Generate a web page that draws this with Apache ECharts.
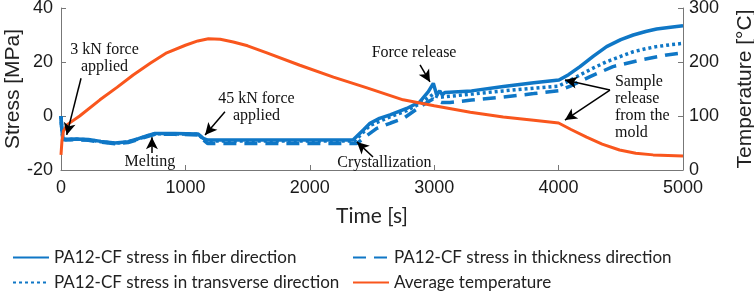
<!DOCTYPE html>
<html><head><meta charset="utf-8">
<script src="https://cdn.jsdelivr.net/npm/echarts@6/dist/echarts.min.js"></script>
<style>html,body{margin:0;padding:0;background:#fff}#c{width:754px;height:294px}</style>
</head><body><div id="c"></div>
<script>
// ---- data ----
const xTicks = [0, 1000, 2000, 3000, 4000, 5000];
const stressTicks = [-20, 0, 20, 40];
const tempTicks = [0, 100, 200, 300];

const fiberTime   = [0, 5, 15, 40, 120, 220, 320, 434, 540, 622, 700, 755, 916, 1103, 1143, 1180, 1400, 1800, 2200, 2347, 2430, 2484, 2560, 2645, 2779, 2886, 2953, 2993, 3020, 3045, 3065, 3085, 3100, 3300, 3556, 3800, 4003, 4080, 4172, 4280, 4386, 4500, 4600, 4700, 4788, 4900, 5000];
const fiberStress = [0, -4, -8.5, -8.6, -8.5, -8.7, -9.4, -10.0, -9.5, -8.4, -7.2, -6.5, -6.5, -6.7, -8.3, -8.9, -8.9, -8.9, -8.9, -8.9, -5.2, -2.7, -0.9, 0.4, 2.8, 5.3, 9.0, 12.1, 7.8, 9.3, 7.8, 8.7, 8.0, 9.3, 10.9, 12.3, 13.3, 15.3, 18.3, 22.2, 25.7, 28.3, 30.0, 31.3, 32.2, 32.9, 33.4];

const thickTime   = [0, 5, 15, 40, 120, 220, 320, 434, 540, 622, 700, 755, 916, 1103, 1143, 1180, 1400, 1800, 2200, 2377, 2460, 2538, 2650, 2752, 2886, 2990, 3060, 3127, 3300, 3556, 3800, 4000, 4100, 4253, 4437, 4654, 4869, 5000];
const thickStress = [0, -4, -8.7, -8.9, -8.8, -9.0, -9.7, -10.3, -9.8, -8.7, -7.5, -6.8, -6.8, -7.0, -8.8, -10.2, -10.2, -10.2, -10.2, -10.2, -7.2, -4.6, -2.6, -0.9, 3.4, 6.3, 5.0, 5.0, 5.9, 7.0, 8.3, 9.4, 11.2, 14.6, 18.3, 20.7, 22.6, 23.4];

const transTime   = [0, 5, 15, 40, 120, 220, 320, 434, 540, 622, 700, 755, 916, 1103, 1143, 1180, 1400, 1800, 2200, 2360, 2430, 2484, 2645, 2779, 2886, 2990, 3040, 3100, 3300, 3556, 3800, 4000, 4080, 4172, 4280, 4386, 4500, 4600, 4700, 4788, 4900, 5000];
const transStress = [0, -4, -8.6, -8.7, -8.6, -8.8, -9.5, -10.1, -9.6, -8.5, -7.3, -6.6, -6.6, -6.8, -8.5, -9.3, -9.3, -9.3, -9.3, -9.3, -6.0, -3.5, -0.3, 2.0, 4.6, 8.0, 6.9, 7.2, 8.1, 9.3, 10.3, 11.1, 12.9, 15.2, 17.8, 20.1, 22.1, 23.8, 24.9, 25.7, 26.4, 26.9];

const tempTime  = [0, 8, 20, 50, 150, 313, 450, 580, 720, 850, 1000, 1100, 1185, 1280, 1385, 1500, 1655, 1920, 2190, 2460, 2750, 3000, 3290, 3555, 3800, 4000, 4100, 4225, 4350, 4490, 4620, 4760, 4880, 5000];
const tempValue = [28, 55, 72, 84, 100, 130, 153, 176, 198, 217, 231, 239, 243, 242, 237, 230, 217, 194, 172, 152, 130, 119, 107, 98, 92, 87, 75, 61, 48, 37, 31, 28, 27, 26];

// annotations
const noteTexts = ['3 kN force\napplied', '45 kN force\napplied', 'Melting', 'Crystallization', 'Force release'];
const noteTime  = [350, 1571, 715, 2600, 2838];
const noteStress = [21.3, 3.1, -17.0, -17.4, 23.3];
const sampleText = 'Sample\nrelease\nfrom the\nmold';
const sampleAt = [4453, 3.1];
// arrows
const arrowFromT = [161, 1318, 731, 2508, 2886, 4413, 4413];
const arrowFromS = [14.0, 1.6, -13.7, -15.2, 18.9, 9.6, 9.6];
const arrowToT   = [46, 1158, 731, 2379, 2966, 4051, 4051];
const arrowToS   = [-7.0, -7.0, -7.9, -9.6, 12.6, 13.3, -1.5];

const names = ['PA12-CF stress in fiber direction', 'PA12-CF stress in thickness direction', 'PA12-CF stress in transverse direction', 'Average temperature'];
const BLUE = '#0f77c6', ORANGE = '#f9561d';

function pairs(xs, ys) { return xs.map((x, i) => [x, ys[i]]); }

const chart = echarts.init(document.getElementById('c'), null, {renderer: 'canvas'});
const SANS = "'Liberation Sans', Arial, sans-serif";
const axisFont = {fontFamily: SANS, fontSize: 18, color: '#1a1a1a', formatter: v => String(v)};
const axLine = {show: true, onZero: false, lineStyle: {color: '#777', width: 1}};
const axTick = {show: true, inside: true, length: 5, lineStyle: {color: '#777'}};
const serif = "'Liberation Serif', 'Times New Roman', serif";

const notePoints = noteTexts.map((t, i) => ({
  coord: [noteTime[i], noteStress[i]], symbol: 'circle', symbolSize: 1,
  itemStyle: {color: 'rgba(0,0,0,0)'},
  label: {show: true, position: 'inside', formatter: t, color: '#111', fontFamily: serif, fontSize: 16, lineHeight: 17, align: 'center'}
}));
notePoints.push({
  coord: sampleAt, symbol: 'circle', symbolSize: 1, itemStyle: {color: 'rgba(0,0,0,0)'},
  label: {show: true, position: 'inside', formatter: sampleText, color: '#111', fontFamily: serif, fontSize: 16, lineHeight: 17, align: 'left'}
});
const arrowLines = arrowFromT.map((t, i) => [
  {coord: [t, arrowFromS[i]]}, {coord: [arrowToT[i], arrowToS[i]]}
]);

const legendPos = [[12, 249], [352, 249], [12, 274], [352, 274]];
const legendOrder = [names[0], names[1], names[2], names[3]];
const legends = legendOrder.map((n, i) => ({
  data: [n], left: legendPos[i][0], top: legendPos[i][1], padding: 0,
  itemWidth: 36, itemHeight: 14, itemGap: 6,
  itemStyle: {opacity: 0},
  textStyle: {fontFamily: 'Lato', fontSize: 17, color: '#222'}
}));

chart.setOption({
  animation: false,
  grid: {left: 61, right: 71, top: 8, bottom: 124, containLabel: false, outerBoundsMode: 'none'},
  legend: legends,
  xAxis: {type: 'value', min: xTicks[0], max: xTicks[xTicks.length - 1], interval: 1000,
    name: 'Time [s]', nameLocation: 'middle', nameGap: 36, nameMoveOverlap: false,
    nameTextStyle: {fontFamily: 'Lato', fontSize: 21, color: '#222'},
    axisLine: axLine, axisTick: axTick, splitLine: {show: false},
    axisLabel: Object.assign({margin: 9}, axisFont)},
  yAxis: [
    {type: 'value', min: stressTicks[0], max: stressTicks[stressTicks.length - 1], interval: 20,
     name: 'Stress [MPa]', nameLocation: 'middle', nameRotate: 90, nameGap: 37, nameMoveOverlap: false,
     nameTextStyle: {fontFamily: SANS, fontSize: 21, color: '#222'},
     axisLine: axLine, axisTick: axTick, splitLine: {show: false},
     axisLabel: Object.assign({margin: 8}, axisFont)},
    {type: 'value', min: tempTicks[0], max: tempTicks[tempTicks.length - 1], interval: 100, position: 'right',
     name: 'Temperature [°C]', nameLocation: 'middle', nameRotate: 90, nameGap: 52, nameMoveOverlap: false,
     nameTextStyle: {fontFamily: SANS, fontSize: 21, color: '#222'},
     axisLine: axLine, axisTick: axTick, splitLine: {show: false},
     axisLabel: Object.assign({margin: 6}, axisFont)}
  ],
  series: [
    {name: names[1], type: 'line', yAxisIndex: 0, data: pairs(thickTime, thickStress), showSymbol: false, symbol: 'none',
     lineStyle: {color: BLUE, width: 3.5, type: [13, 8]}, itemStyle: {color: BLUE}},
    {name: names[2], type: 'line', yAxisIndex: 0, data: pairs(transTime, transStress), showSymbol: false, symbol: 'none',
     lineStyle: {color: BLUE, width: 3.5, type: [3, 3]}, itemStyle: {color: BLUE}},
    {name: names[0], type: 'line', yAxisIndex: 0, data: pairs(fiberTime, fiberStress), showSymbol: false, symbol: 'none',
     lineStyle: {color: BLUE, width: 3.5}, itemStyle: {color: BLUE}},
    {name: names[3], type: 'line', yAxisIndex: 1, data: pairs(tempTime, tempValue), showSymbol: false, symbol: 'none',
     lineStyle: {color: ORANGE, width: 3}, itemStyle: {color: ORANGE}},
    {name: 'annotations', type: 'line', yAxisIndex: 0, data: [], silent: true,
     markPoint: {data: notePoints, animation: false},
     markLine: {symbol: ['none', 'arrow'], symbolSize: [9, 12], silent: true, animation: false,
       lineStyle: {color: '#000', width: 1.5, type: 'solid'}, label: {show: false},
       data: arrowLines}}
  ]
});
</script></body></html>
